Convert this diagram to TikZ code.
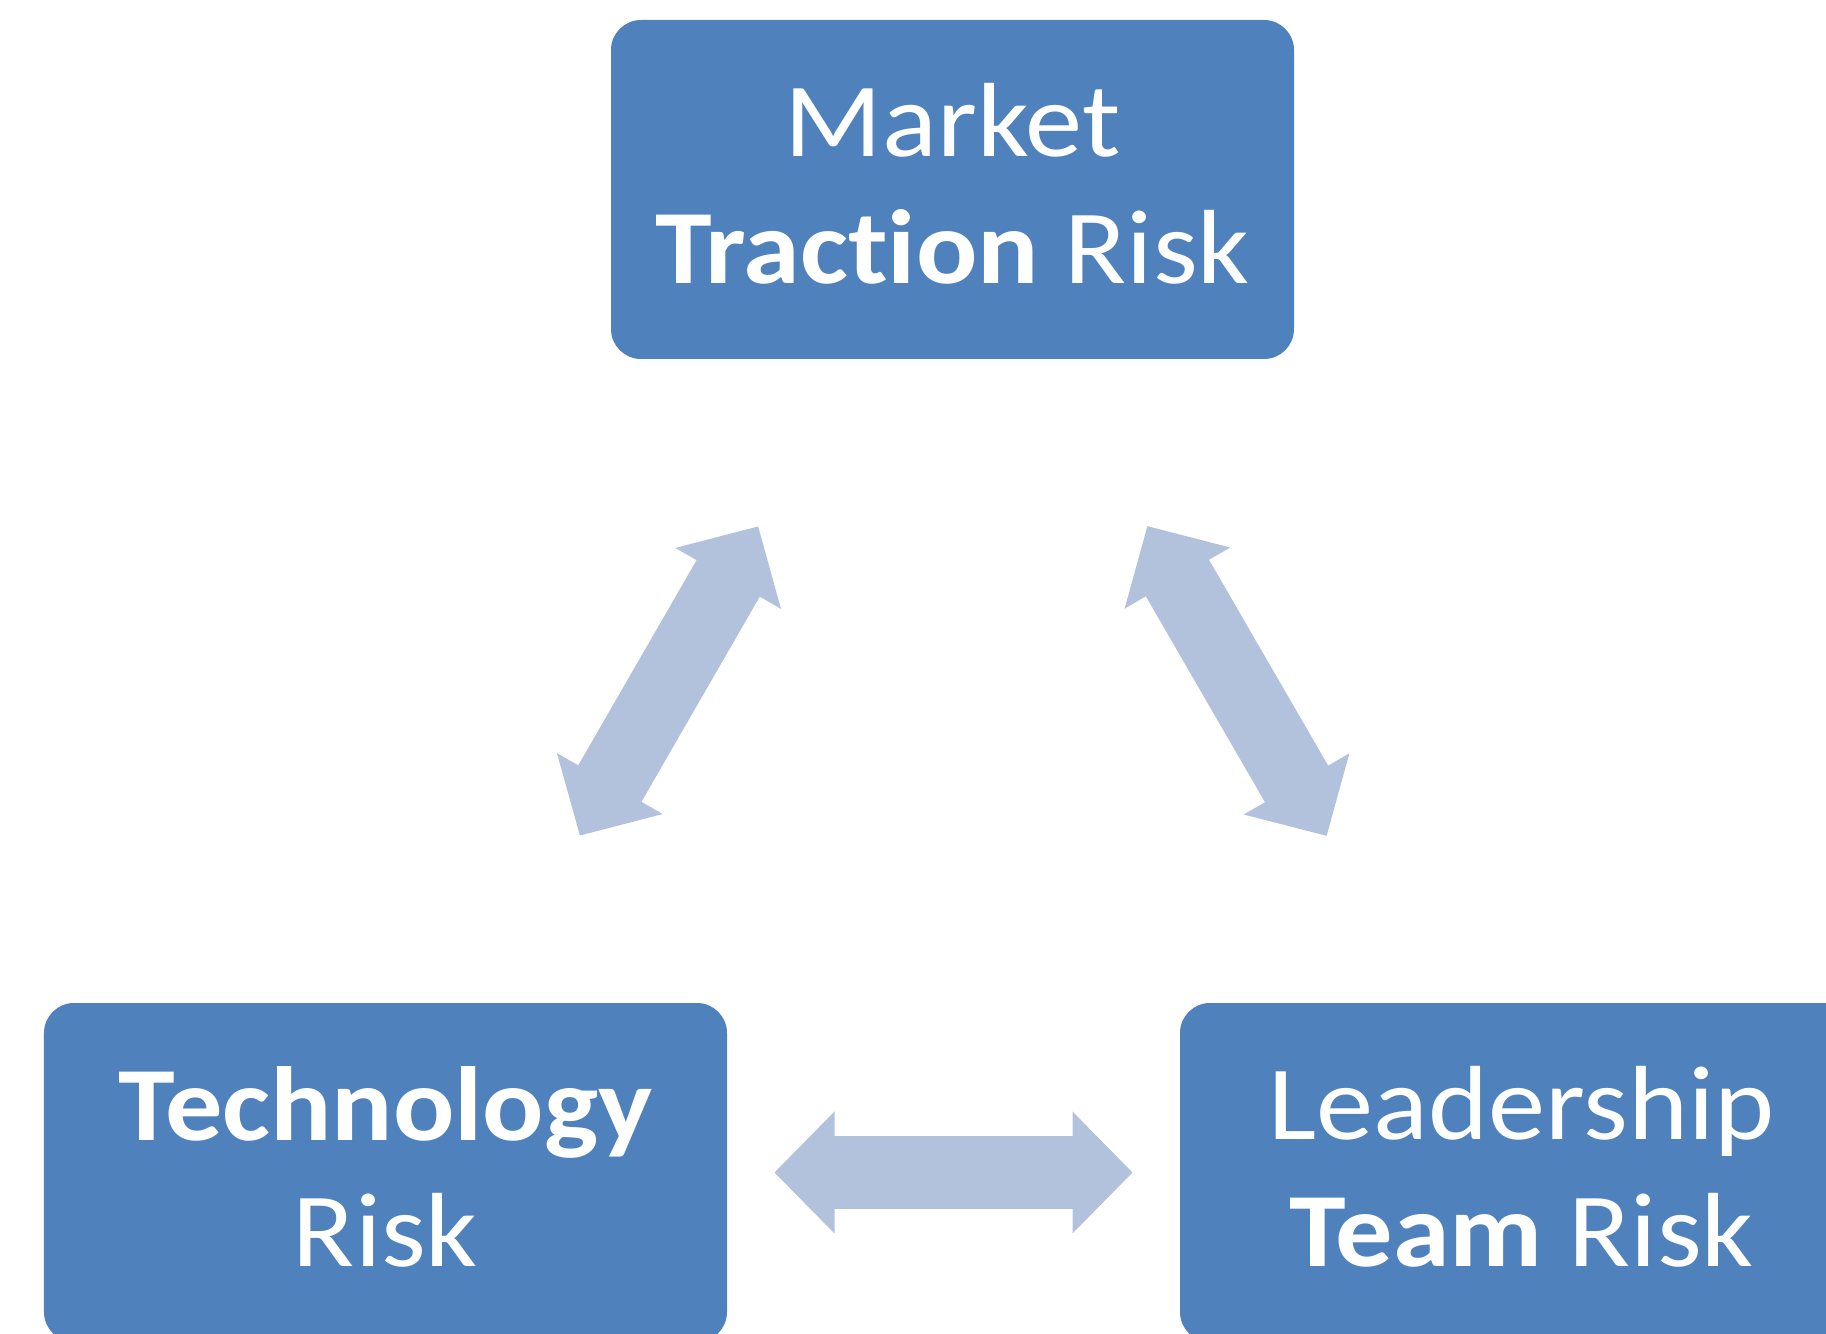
\documentclass[tikz,border=0pt]{standalone}
\usepackage{fontspec}
\setmainfont[FakeStretch=1.085, RawFeature={-liga;-dlig}]{Carlito}
\usetikzlibrary{arrows.meta}
\definecolor{boxblue}{HTML}{4F81BD}
\definecolor{arrowblue}{HTML}{B3C2DC}

\begin{document}
\begin{tikzpicture}[
        riskbox/.style={fill=boxblue, rounded corners=0.3cm, minimum width=6.83cm, minimum height=3.39cm,
            text=white, align=center, text depth=0.12cm, font=\fontsize{30}{36}\selectfont},
        link/.style={draw=arrowblue, line width=0.73cm,
            {Triangle[length=0.6cm, width=1.21cm, line width=1.5pt]}-{Triangle[length=0.6cm, width=1.21cm, line width=1.5pt]},
            shorten <=3.89cm, shorten >=3.89cm}
    ]

        \useasboundingbox (0,0) rectangle (18.26,-13.34);
        \clip (0,0) rectangle (18.26,-13.34);
        \fill[white] (0,0) rectangle (18.26,-13.34);

        \node[riskbox] (market) at (9.525,-1.895) {Market\\\textbf{Traction} Risk};
        \node[riskbox] (tech) at (3.855,-11.725) {\textbf{Technology}\\Risk};
        \node[riskbox] (lead) at (15.215,-11.725) {Leadership\\\textbf{Team} Risk};

        \draw[link] (market.center) -- (tech.center);
        \draw[link] (market.center) -- (lead.center);
        \draw[link] (tech.center) -- (lead.center);

    \end{tikzpicture}
\end{document}
